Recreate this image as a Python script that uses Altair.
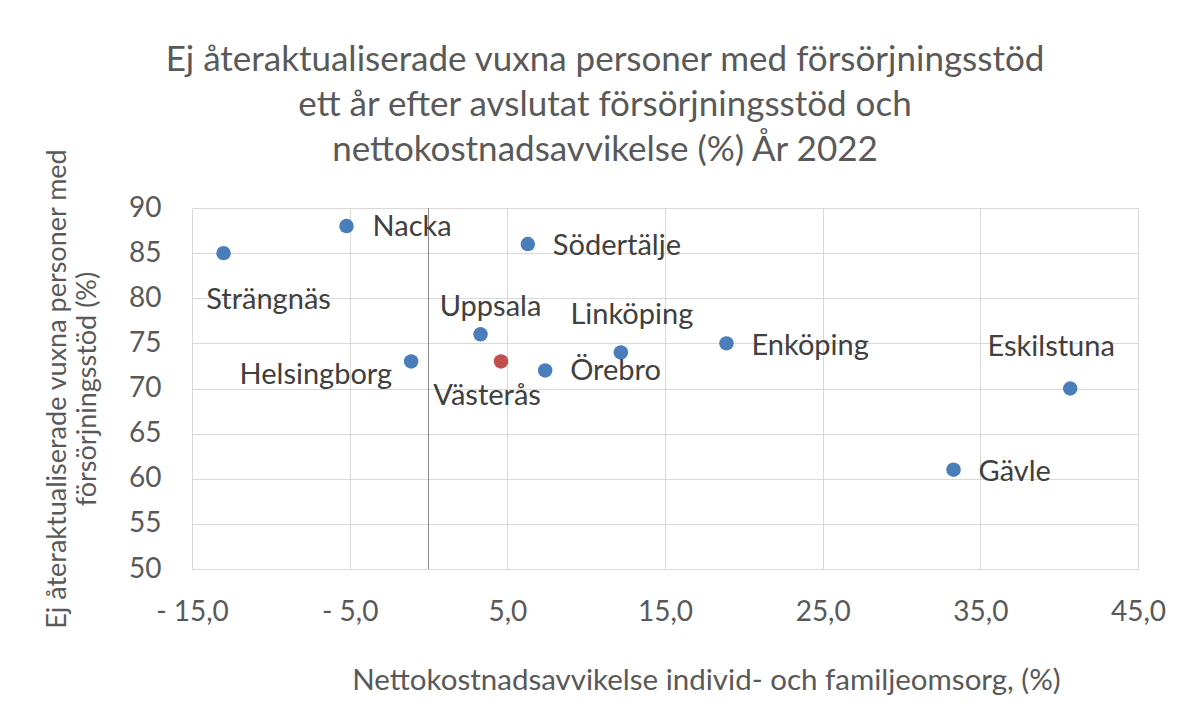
import altair as alt
import pandas as pd

# ---- data ----
names = ["Strängnäs", "Nacka", "Södertälje", "Uppsala", "Helsingborg", "Västerås",
         "Örebro", "Linköping", "Enköping", "Eskilstuna", "Gävle"]
x_vals = [-13.0, -5.2, 6.3, 3.3, -1.1, 4.6, 7.4, 12.2, 18.9, 40.7, 33.3]
y_vals = [85, 88, 86, 76, 73, 73, 72, 74, 75, 70, 61]
groups = ["övriga", "övriga", "övriga", "övriga", "övriga", "Västerås",
          "övriga", "övriga", "övriga", "övriga", "övriga"]
x_ticks = [-15, -5, 5, 15, 25, 35, 45]
y_ticks = [50, 55, 60, 65, 70, 75, 80, 85, 90]

df = pd.DataFrame({"name": names, "x": x_vals, "y": y_vals, "grp": groups})

# label placement (style only): align, dx, dy in pixels
placement = {
    "Strängnäs": ("center", 45, 47),
    "Nacka": ("left", 26, 1),
    "Södertälje": ("left", 25, 2),
    "Uppsala": ("center", 10, -27),
    "Helsingborg": ("right", -19, 14),
    "Västerås": ("center", -14, 35),
    "Örebro": ("left", 25, 1),
    "Linköping": ("center", 11, -37),
    "Enköping": ("left", 25, 3),
    "Eskilstuna": ("center", -19, -42),
    "Gävle": ("left", 25, 2),
}

FONT = "Lato"
TXT = "#595959"

x_enc = alt.X(
    "x:Q",
    scale=alt.Scale(domain=[-15, 45], nice=False, zero=False),
    axis=alt.Axis(
        values=x_ticks,
        labelExpr="(datum.value < 0 ? '- ' : '') + replace(format(abs(datum.value), '.1f'), '.', ',')",
        labelFlush=False,
        title="Nettokostnadsavvikelse individ- och familjeomsorg, (%)",
        titlePadding=40,
        titleX=514,
        titleFontSize=29.5,
        labelPadding=29,
    ),
)
y_enc = alt.Y(
    "y:Q",
    scale=alt.Scale(domain=[50, 90], nice=False, zero=False),
    axis=alt.Axis(
        values=y_ticks,
        labelFlush=False,
        title=["Ej återaktualiserade vuxna personer med", "försörjningsstöd (%)"],
        titlePadding=27,
        titleLineHeight=30,
        labelPadding=31,
    ),
)

base = alt.Chart(df)

zero_rule = base.mark_rule(color="#8c8c8c", strokeWidth=1).encode(
    x=alt.datum(0)
).transform_filter("datum.name == 'Nacka'")

points = base.mark_circle(size=210, opacity=1).encode(
    x=x_enc,
    y=y_enc,
    color=alt.Color(
        "grp:N",
        scale=alt.Scale(domain=["övriga", "Västerås"], range=["#4a7ebb", "#c0504d"]),
        legend=None,
    ),
)

label_layers = []
for n in names:
    align, dx, dy = placement[n]
    label_layers.append(
        base.transform_filter(alt.datum.name == n)
        .mark_text(align=align, baseline="middle", dx=dx, dy=dy,
                   font=FONT, fontSize=29, color="#404040")
        .encode(x="x:Q", y="y:Q", text="name:N")
    )

chart = alt.layer(zero_rule, points, *label_layers).properties(
    width=946,
    height=361,
    background="white",
    autosize=alt.AutoSizeParams(type="none"),
    padding={"left": 184, "top": 200, "right": 49, "bottom": 130},
    title=alt.TitleParams(
        text=["Ej återaktualiserade vuxna personer med försörjningsstöd",
              "ett år efter avslutat försörjningsstöd och",
              "nettokostnadsavvikelse (%) År 2022"],
        anchor="middle",
        dx=-60,
        dy=65,
        offset=17,
        baseline="alphabetic",
        font=FONT,
        fontSize=35,
        fontWeight="normal",
        color=TXT,
        lineHeight=45,
    ),
).configure_view(stroke=None).configure_axis(
    grid=True,
    gridColor="#d9d9d9",
    gridWidth=1,
    domain=False,
    ticks=False,
    labelFont=FONT,
    labelFontSize=28,
    labelColor=TXT,
    titleFont=FONT,
    titleFontSize=27,
    titleFontWeight="normal",
    titleColor=TXT,
)

chart.save("out.html", embed_options={"renderer": "svg", "actions": False})
